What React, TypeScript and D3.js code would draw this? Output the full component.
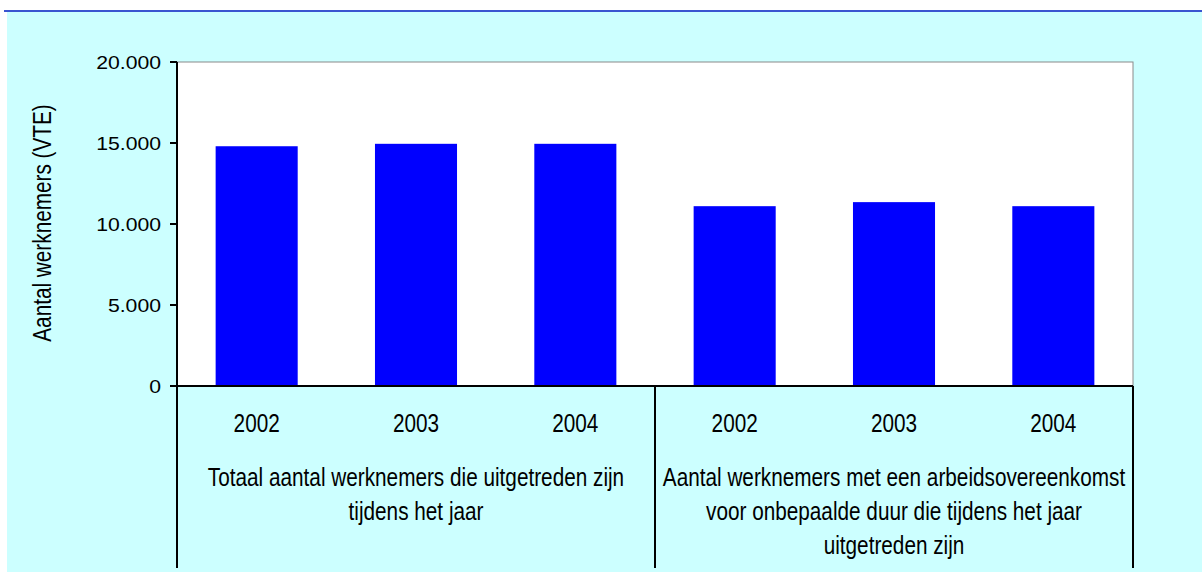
import React from "react";
import * as d3 from "d3";

const years = ["2002", "2003", "2004"];
const groupLabels = [
  ["Totaal aantal werknemers die uitgetreden zijn", "tijdens het jaar"],
  ["Aantal werknemers met een arbeidsovereenkomst", "voor onbepaalde duur die tijdens het jaar", "uitgetreden zijn"],
];
const totalValues = [14800, 14950, 14950];
const permanentValues = [11100, 11350, 11100];
const yTicks = [0, 5000, 10000, 15000, 20000];
const yLabel = "Aantal werknemers (VTE)";

const WIDTH = 1202;
const HEIGHT = 572;
const FONT = "'Liberation Sans', Arial, sans-serif";

const fmt = d3.formatLocale({ decimal: ",", thousands: ".", grouping: [3], currency: ["€", ""] }).format(",.0f");

// text squeezed (or stretched) horizontally, like the original renderer
function SText({ x, y, sx = 0.83, size = 25, anchor = "middle", rotate = 0, children }: any) {
  return (
    <text
      transform={`translate(${x},${y}) rotate(${rotate}) scale(${sx},1)`}
      textAnchor={anchor}
      fontSize={size}
      fill="#000"
    >
      {children}
    </text>
  );
}

export default function App() {
  const left = 177, right = 1133, top = 62, bottom = 386;

  const rows = [totalValues, permanentValues].flatMap((vals, g) =>
    vals.map((v, i) => ({ key: `${g}-${years[i]}`, group: g, year: years[i], value: v }))
  );

  const x = d3.scaleBand<string>().domain(rows.map(r => r.key)).range([left, right]).paddingInner(0.485).paddingOuter(0.2425);
  const y = d3.scaleLinear().domain([0, 20000]).range([bottom, top]);
  const groupW = (right - left) / groupLabels.length;

  return (
    <svg width={WIDTH} height={HEIGHT} style={{ position: "absolute", left: 0, top: 0, display: "block" }} fontFamily={FONT}>
      <rect x={0} y={0} width={WIDTH} height={HEIGHT} fill="#ffffff" />
      <rect x={7} y={11} width={WIDTH - 7} height={HEIGHT - 11} fill="#ccffff" />
      <line x1={4} x2={WIDTH} y1={11} y2={11} stroke="#3a55d0" strokeWidth={2} />

      {/* plot area */}
      <rect x={left} y={top} width={right - left} height={bottom - top} fill="#ffffff" stroke="#8a8a8a" strokeWidth={1} />

      {rows.map(r => (
        <rect key={r.key} x={x(r.key)} y={y(r.value)} width={x.bandwidth()} height={bottom - y(r.value)} fill="#0000ff" />
      ))}

      {/* y axis */}
      <line x1={left} x2={left} y1={top} y2={568} stroke="#000" strokeWidth={2} />
      {yTicks.map(t => (
        <g key={t}>
          <line x1={left - 7} x2={left} y1={y(t)} y2={y(t)} stroke="#000" strokeWidth={2} />
          <SText x={left - 16} y={y(t) + 6.7} sx={1.14} size={18.6} anchor="end">{fmt(t)}</SText>
        </g>
      ))}
      <SText x={51} y={223} rotate={-90} size={25}>{yLabel}</SText>

      {/* x axis */}
      <line x1={left - 7} x2={right} y1={bottom} y2={bottom} stroke="#000" strokeWidth={2} />
      {groupLabels.map((_, g) => (
        <line key={g} x1={left + groupW * (g + 1)} x2={left + groupW * (g + 1)} y1={bottom} y2={568} stroke="#000" strokeWidth={2} />
      ))}
      {rows.map(r => (
        <SText key={r.key} x={x(r.key)! + x.bandwidth() / 2} y={432}>{r.year}</SText>
      ))}
      {groupLabels.map((lines, g) =>
        lines.map((l, i) => (
          <SText key={`${g}-${i}`} x={left + groupW * (g + 0.5)} y={486 + i * 34}>{l}</SText>
        ))
      )}
    </svg>
  );
}
